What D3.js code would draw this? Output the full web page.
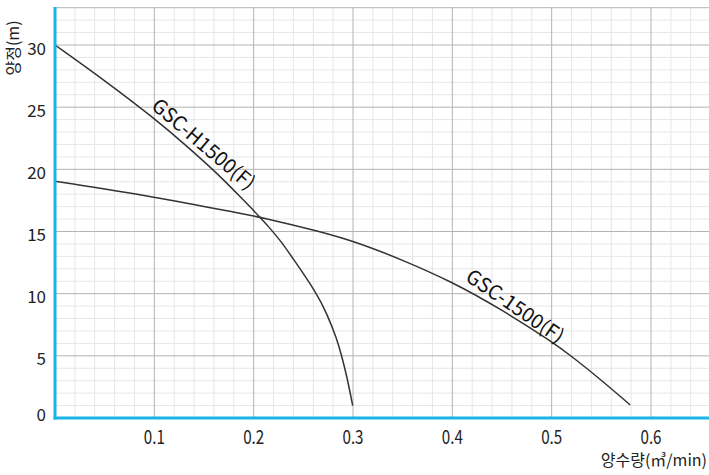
<!DOCTYPE html>
<html><head><meta charset="utf-8">
<script src="https://cdn.jsdelivr.net/npm/d3@7"></script>
<style>
html,body{margin:0;padding:0;background:#fff;}
svg{display:block;font-family:"Noto Sans CJK KR","Noto Sans",sans-serif;}
</style></head>
<body>
<svg id="chart" width="709" height="475"></svg>
<script>
// Data
const xTicks = [0.1, 0.2, 0.3, 0.4, 0.5, 0.6];
const yTicks = [0, 5, 10, 15, 20, 25, 30];
const seriesNames = ["GSC-H1500(F)", "GSC-1500(F)"];
const h1500Flow = [0, 0.05, 0.1, 0.133, 0.163, 0.187, 0.2064, 0.2164, 0.2265, 0.2399, 0.2635, 0.2735, 0.2836, 0.2886, 0.294, 0.2997];
const h1500Head = [30.0, 27.15, 24.1, 21.85, 19.7, 17.75, 16.15, 15.26, 14.32, 12.8, 10.03, 8.42, 6.41, 5.0, 3.3, 1.0];
const s1500Flow = [0, 0.1, 0.187, 0.207, 0.267, 0.307, 0.348, 0.4, 0.45, 0.5, 0.522, 0.55, 0.579];
const s1500Head = [19.05, 17.8, 16.45, 16.15, 15.0, 14.05, 12.77, 10.95, 8.7, 6.15, 4.85, 3.05, 1.05];
const xTitle = "양수량(㎥/min)";
const yTitle = "양정(m)";

const svg = d3.select("#chart");
const x = d3.scaleLinear().domain([0, 0.66]).range([55, 710.6]);
const y = d3.scaleLinear().domain([0, 33]).range([418, 7.7]);

const grid = svg.append("g");
// minor grid
const minorX = d3.range(0.02, 0.66, 0.02).filter(v => Math.abs(v*10 - Math.round(v*10)) > 1e-6);
const minorY = d3.range(1, 33, 1).filter(v => v % 5 !== 0);
grid.selectAll(".mx").data(minorX).join("line")
  .attr("x1", d => x(d)).attr("x2", d => x(d)).attr("y1", y(33)).attr("y2", y(0))
  .attr("stroke", "#e6e6e6").attr("stroke-width", 1);
grid.selectAll(".my").data(minorY).join("line")
  .attr("x1", x(0)).attr("x2", 709).attr("y1", d => y(d)).attr("y2", d => y(d))
  .attr("stroke", "#e6e6e6").attr("stroke-width", 1);
// major grid
grid.selectAll(".Mx").data(xTicks).join("line")
  .attr("x1", d => x(d)).attr("x2", d => x(d)).attr("y1", y(33)).attr("y2", y(0))
  .attr("stroke", "#b4b4b4").attr("stroke-width", 1);
grid.selectAll(".My").data(yTicks.filter(v => v > 0).concat([33])).join("line")
  .attr("x1", x(0)).attr("x2", 709).attr("y1", d => y(d)).attr("y2", d => y(d))
  .attr("stroke", "#b4b4b4").attr("stroke-width", 1);

// curves
const line = d3.line().x(d => x(d[0])).y(d => y(d[1])).curve(d3.curveBasis);
const curves = [d3.zip(h1500Flow, h1500Head), d3.zip(s1500Flow, s1500Head)];
svg.selectAll(".curve").data(curves).join("path")
  .attr("d", line).attr("fill", "none").attr("stroke", "#333").attr("stroke-width", 1.5);

// axes
svg.append("line").attr("x1", x(0)).attr("x2", x(0)).attr("y1", 7).attr("y2", 419.5)
  .attr("stroke", "#1ab4e6").attr("stroke-width", 3);
svg.append("line").attr("x1", x(0) - 1.5).attr("x2", 709).attr("y1", y(0)).attr("y2", y(0))
  .attr("stroke", "#1ab4e6").attr("stroke-width", 3);

// tick labels
svg.selectAll(".yt").data(yTicks).join("text")
  .attr("x", 46).attr("y", d => y(d) + (d === 0 ? -5 : 2))
  .attr("text-anchor", "end").attr("dominant-baseline", "central")
  .attr("font-size", 17).attr("fill", "#222").text(d => d);
svg.selectAll(".xt").data(xTicks).join("text")
  .attr("transform", d => `translate(${x(d)},444) scale(0.8,1)`)
  .attr("text-anchor", "middle")
  .attr("font-size", 19).attr("fill", "#222").text(d => d);

// axis titles
svg.append("text").attr("x", 707).attr("y", 466).attr("text-anchor", "end")
  .attr("font-size", 16).attr("fill", "#222").text(xTitle);
svg.append("text").attr("transform", "translate(19,48) rotate(-90)")
  .attr("text-anchor", "middle").attr("font-size", 16).attr("fill", "#222").text(yTitle);

// series labels
const labelPos = [[0.1505, 22.13, 40.5], [0.464, 9.1, 34.5]];
svg.selectAll(".lbl").data(seriesNames).join("text")
  .attr("transform", (d, i) => `translate(${x(labelPos[i][0])},${y(labelPos[i][1])}) rotate(${labelPos[i][2]})`)
  .attr("text-anchor", "middle").attr("dominant-baseline", "central")
  .attr("font-size", 20).attr("fill", "#111").text(d => d);
</script>
</body></html>
